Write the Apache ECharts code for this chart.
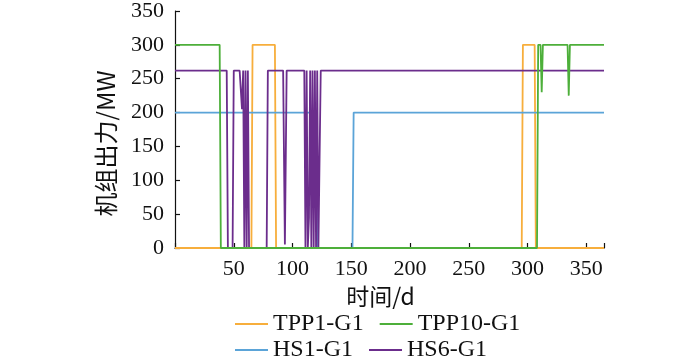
<!DOCTYPE html>
<html><head><meta charset="utf-8">
<script src="https://cdn.jsdelivr.net/npm/echarts@6/dist/echarts.min.js"></script>
<style>html,body{margin:0;padding:0;background:#fff}#c{width:700px;height:362px}</style>
</head><body><div id="c"></div>
<script>
// Data: [day, MW] breakpoints
var legendRow1 = ['TPP1-G1', 'TPP10-G1'];
var legendRow2 = ['HS1-G1', 'HS6-G1'];
var tpp1 = [[0,0],[65,0],[66,300],[85,300],[86,0],[295,0],[296,300],[306,300],[307,0],[365,0]];
var tpp10 = [[0,300],[38,300],[39,0],[308,0],[309,300],[311,300],[312,230],[313,300],[334,300],[335,225],[336,300],[365,300]];
var hs1 = [[0,200],[120,200],[121,0],[151,0],[152,200],[365,200]];
var hs6 = [[0,262],[44,262],[45,0],[49,0],[50,262],[55,262],[56,262],[57,205],[58,262],[59,0],[60,262],[61,0],[62,262],[63,0],
  [78,0],[79,262],[92,262],[93.5,5],[95,262],[110,262],[111,0],[112,262],[113,0],[114,45],[115,262],[116,0],[117,262],[118,0],
  [119,262],[120,0],[121,262],[122,0],[123,0],[124,262],[365,262]];
var xTicks = [50,100,150,200,250,300,350];
var yTicks = [0,50,100,150,200,250,300,350];

var colors = {'TPP1-G1':'#F7AE3C','TPP10-G1':'#4DAF3A','HS1-G1':'#5BA4D8','HS6-G1':'#6B2D8C'};
var font = 'Liberation Serif, Times New Roman, serif';
var chart = echarts.init(document.getElementById('c'));
function s(name, data, z){
  return {name:name, type:'line', data:data, showSymbol:false, symbol:'none', z:z,
    lineStyle:{width:1.8, color:colors[name]}, itemStyle:{color:colors[name]}, animation:false};
}
function lg(data, top){
  return {data:data, left:230, top:top, orient:'horizontal', itemWidth:33, itemHeight:14, itemGap:16,
    icon:'path://M0,6L33,6L33,8L0,8Z',
    textStyle:{fontFamily:font, fontSize:24, color:'#111', width:100}};
}
chart.setOption({
  animation:false,
  grid:{left:175, right:96, top:10, bottom:114},
  legend:[lg(legendRow1, 307), lg(legendRow2, 333)],
  xAxis:{type:'value', min:0, max:365, interval:50,
    name:'时间/d', nameLocation:'middle', nameGap:36,
    nameTextStyle:{fontFamily:'Noto Sans CJK SC', fontSize:23, color:'#111', padding:[0,18,0,0]},
    axisLine:{show:true, lineStyle:{color:'#111', width:1.2}},
    axisTick:{show:true, inside:true, length:5, lineStyle:{color:'#111', width:1.2}},
    axisLabel:{fontFamily:font, fontSize:22, color:'#111', margin:10,
      formatter:function(v){return xTicks.indexOf(v)>=0 ? String(v) : '';}},
    splitLine:{show:false}},
  yAxis:{type:'value', min:0, max:350, interval:50,
    name:'机组出力/MW', nameLocation:'middle', nameGap:57,
    nameTextStyle:{fontFamily:'Noto Sans CJK SC', fontSize:24, color:'#111', padding:[0,28,0,0]},
    axisLine:{show:true, lineStyle:{color:'#111', width:1.2}},
    axisTick:{show:true, inside:true, length:5, lineStyle:{color:'#111', width:1.2}},
    axisLabel:{fontFamily:font, fontSize:22, color:'#111', margin:11,
      formatter:function(v){return yTicks.indexOf(v)>=0 ? String(v) : '';}},
    splitLine:{show:false}},
  series:[s('TPP1-G1', tpp1, 2), s('HS1-G1', hs1, 3), s('HS6-G1', hs6, 4), s('TPP10-G1', tpp10, 5)]
});
</script></body></html>
